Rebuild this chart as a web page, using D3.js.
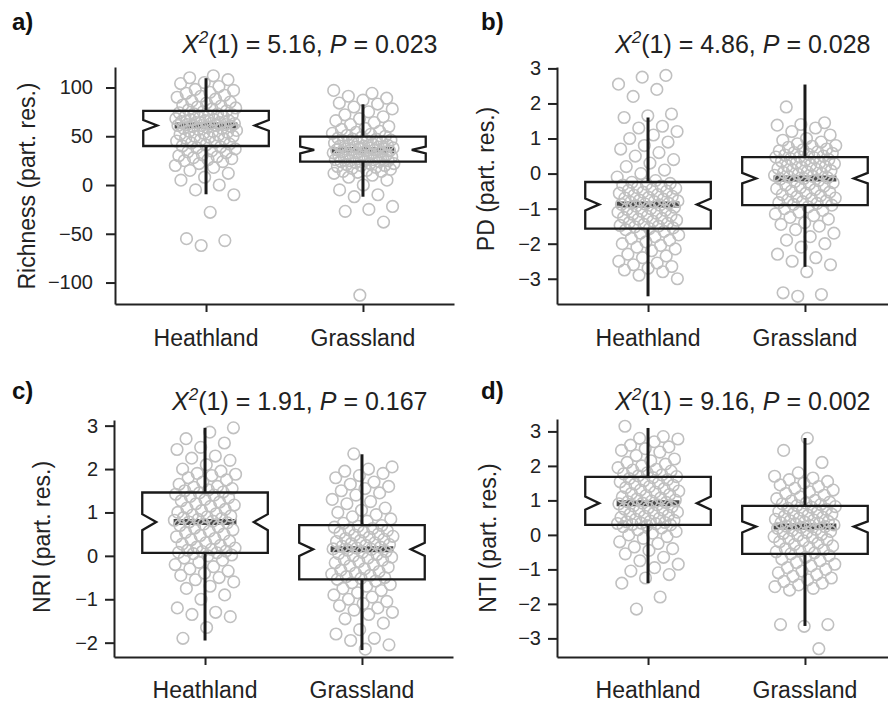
<!DOCTYPE html>
<meta charset="utf-8">
<style>
    body { margin: 0; background: #fff; }
    svg { font-family: "Liberation Sans", Arial, sans-serif; }
    .axis path, .axis line { fill: none; stroke: #222; stroke-width: 2px; }
    .axis text { font-size: 20px; fill: #222; }
    .pt { fill: none; stroke: #c0c0c0; stroke-width: 1.6px; }
</style>
<body>
<script src="https://d3js.org/d3.v7.min.js"></script>
<script>
    const groups = ["Heathland", "Grassland"];
    const letters = ["a)", "b)", "c)", "d)"];
    const yLabels = ["Richness (part. res.)", "PD (part. res.)", "NRI (part. res.)", "NTI (part. res.)"];
    const chiSq = ["5.16", "4.86", "1.91", "9.16"];
    const pVals = ["0.023", "0.028", "0.167", "0.002"];
    const yTicks = [[-100, -50, 0, 50, 100], [-3, -2, -1, 0, 1, 2, 3], [-2, -1, 0, 1, 2, 3], [-3, -2, -1, 0, 1, 2, 3]];
    const yLimits = [[-122, 121], [-3.72, 3.04], [-2.33, 3.13], [-3.54, 3.36]];

    // box stats per panel: [Heathland, Grassland]
    const q1 = [[40, 24], [-1.57, -0.9], [0.07, -0.54], [0.29, -0.55]];
    const medians = [[61, 36], [-0.88, -0.14], [0.78, 0.15], [0.92, 0.24]];
    const q3 = [[76, 49.6], [-0.24, 0.47], [1.46, 0.71], [1.68, 0.84]];
    const notchLo = [[55.7, 32.5], [-1.05, -0.28], [0.59, 0.0], [0.73, 0.07]];
    const notchHi = [[66.7, 39.3], [-0.71, 0.02], [0.96, 0.3], [1.11, 0.39]];
    const whiskLo = [[-9.5, -12], [-3.5, -2.66], [-1.95, -2.17], [-1.4, -2.64]];
    const whiskHi = [[109.5, 82.8], [1.6, 2.54], [2.95, 2.34], [3.1, 2.81]];

    const richnessHeath = [112, 110, 108, 105, 104, 101, 98, 97, 95, 94, 92, 91, 90, 88, 86, 85, 84, 82, 81, 80, 79, 78, 77,
        76, 75, 74, 73, 73, 72, 71, 70, 70, 69, 68, 67, 67, 66, 66, 65, 64, 64, 63, 63, 62, 62, 61, 61, 61,
        60, 60, 59, 58, 58, 57, 56, 55, 55, 54, 53, 52, 51, 50, 50, 49, 48, 47, 46, 45, 44, 43, 42, 41, 40,
        39, 38, 37, 35, 34, 33, 31, 30, 29, 28, 27, 26, 25, 24, 22, 20, 18, 15, 12, 8, 5, 0, -5, -10, -28, -55, -57, -62];
    const richnessGrass = [97, 94, 91, 89, 87, 84, 83, 80, 78, 75, 72, 70, 68, 66, 64, 62, 60, 58, 57, 55, 54, 53, 52, 51, 50,
        49, 48, 47, 47, 46, 45, 45, 44, 43, 43, 42, 41, 41, 40, 40, 39, 39, 38, 38, 37, 37, 37, 36, 36, 36,
        35, 35, 34, 34, 33, 33, 32, 32, 31, 31, 30, 30, 29, 29, 28, 28, 27, 27, 26, 26, 25, 25, 25, 24, 24,
        23, 22, 22, 21, 20, 20, 19, 18, 17, 16, 15, 14, 14, 13, 12, 10, 8, 5, 0, -5, -10, -12, -22, -25, -27, -38, -113];
    const pdHeath = [2.8, 2.75, 2.55, 2.4, 2.2, 1.7, 1.65, 1.6, 1.35, 1.3, 1.2, 1.1, 1.0, 0.9, 0.8, 0.7, 0.6, 0.5, 0.4, 0.3, 0.2, 0.1, 0.0, -0.1, -0.2,
        -0.25, -0.28, -0.3, -0.33, -0.36, -0.4, -0.42, -0.45, -0.48, -0.5, -0.53, -0.56, -0.6, -0.62, -0.65, -0.68, -0.7, -0.73, -0.76, -0.78, -0.8, -0.82, -0.85, -0.87, -0.88,
        -0.9, -0.93, -0.96, -1.0, -1.02, -1.05, -1.08, -1.1, -1.13, -1.16, -1.2, -1.22, -1.25, -1.28, -1.3, -1.33, -1.36, -1.4, -1.42, -1.45, -1.48, -1.5, -1.52, -1.55, -1.57,
        -1.6, -1.65, -1.7, -1.75, -1.8, -1.85, -1.9, -1.95, -2.0, -2.05, -2.1, -2.15, -2.2, -2.3, -2.35, -2.4, -2.5, -2.55, -2.6, -2.65, -2.7, -2.75, -2.8, -2.9, -3.0];
    const pdGrass = [1.9, 1.45, 1.4, 1.38, 1.3, 1.2, 1.1, 1.0, 0.95, 0.9, 0.85, 0.8, 0.78, 0.75, 0.7, 0.68, 0.65, 0.62, 0.6, 0.58, 0.55, 0.53, 0.5, 0.48, 0.47,
        0.45, 0.42, 0.4, 0.38, 0.35, 0.32, 0.3, 0.28, 0.25, 0.22, 0.2, 0.18, 0.15, 0.12, 0.1, 0.08, 0.05, 0.03, 0.0, -0.02, -0.05, -0.08, -0.1, -0.12, -0.14,
        -0.16, -0.2, -0.23, -0.26, -0.3, -0.33, -0.36, -0.4, -0.43, -0.46, -0.5, -0.53, -0.56, -0.6, -0.63, -0.66, -0.7, -0.72, -0.75, -0.78, -0.8, -0.83, -0.85, -0.88, -0.9,
        -0.95, -1.0, -1.05, -1.1, -1.15, -1.2, -1.25, -1.3, -1.4, -1.45, -1.5, -1.6, -1.7, -1.8, -1.9, -2.0, -2.1, -2.3, -2.4, -2.5, -2.6, -2.8, -3.4, -3.45, -3.5];
    const nriHeath = [2.95, 2.85, 2.7, 2.6, 2.5, 2.45, 2.3, 2.25, 2.2, 2.1, 2.0, 1.95, 1.9, 1.88, 1.85, 1.8, 1.75, 1.7, 1.65, 1.6, 1.58, 1.55, 1.52, 1.5, 1.47,
        1.45, 1.42, 1.4, 1.37, 1.34, 1.3, 1.27, 1.24, 1.2, 1.17, 1.14, 1.1, 1.07, 1.04, 1.0, 0.97, 0.94, 0.92, 0.9, 0.88, 0.86, 0.84, 0.82, 0.8, 0.78,
        0.76, 0.73, 0.7, 0.67, 0.64, 0.6, 0.57, 0.54, 0.5, 0.47, 0.44, 0.4, 0.37, 0.34, 0.3, 0.27, 0.24, 0.2, 0.18, 0.15, 0.13, 0.11, 0.1, 0.08, 0.07,
        0.05, 0.02, 0.0, -0.05, -0.1, -0.15, -0.2, -0.25, -0.3, -0.35, -0.4, -0.45, -0.5, -0.55, -0.6, -0.7, -0.75, -0.9, -1.0, -1.2, -1.3, -1.35, -1.4, -1.65, -1.9];
    const nriGrass = [2.35, 2.05, 2.0, 1.95, 1.9, 1.85, 1.8, 1.7, 1.65, 1.6, 1.55, 1.5, 1.45, 1.4, 1.3, 1.25, 1.2, 1.1, 1.05, 1.0, 0.95, 0.9, 0.85, 0.8, 0.75,
        0.7, 0.68, 0.66, 0.63, 0.6, 0.58, 0.55, 0.53, 0.5, 0.48, 0.45, 0.43, 0.4, 0.38, 0.35, 0.33, 0.3, 0.28, 0.26, 0.24, 0.22, 0.2, 0.18, 0.16, 0.15,
        0.13, 0.1, 0.08, 0.05, 0.03, 0.0, -0.03, -0.05, -0.08, -0.1, -0.13, -0.16, -0.2, -0.23, -0.26, -0.3, -0.33, -0.36, -0.4, -0.42, -0.45, -0.48, -0.5, -0.52, -0.54,
        -0.58, -0.62, -0.66, -0.7, -0.75, -0.8, -0.85, -0.9, -0.95, -1.0, -1.05, -1.1, -1.15, -1.2, -1.25, -1.3, -1.35, -1.45, -1.55, -1.7, -1.8, -1.9, -1.95, -2.05, -2.15];
    const ntiHeath = [3.15, 2.85, 2.8, 2.78, 2.7, 2.6, 2.55, 2.5, 2.45, 2.4, 2.3, 2.2, 2.15, 2.1, 2.05, 2.0, 1.95, 1.9, 1.88, 1.85, 1.8, 1.77, 1.74, 1.71, 1.69,
        1.66, 1.63, 1.6, 1.57, 1.54, 1.5, 1.47, 1.44, 1.4, 1.37, 1.34, 1.3, 1.27, 1.24, 1.2, 1.17, 1.14, 1.1, 1.07, 1.04, 1.01, 0.98, 0.96, 0.94, 0.92,
        0.9, 0.87, 0.84, 0.81, 0.78, 0.75, 0.72, 0.69, 0.66, 0.63, 0.6, 0.57, 0.54, 0.51, 0.48, 0.45, 0.42, 0.4, 0.38, 0.36, 0.34, 0.33, 0.32, 0.3, 0.29,
        0.27, 0.24, 0.2, 0.15, 0.1, 0.05, 0.0, -0.05, -0.1, -0.2, -0.25, -0.35, -0.4, -0.45, -0.55, -0.65, -0.75, -0.85, -0.95, -1.05, -1.15, -1.25, -1.4, -1.8, -2.15];
    const ntiGrass = [2.8, 2.45, 2.1, 1.8, 1.7, 1.65, 1.6, 1.55, 1.5, 1.45, 1.4, 1.35, 1.3, 1.25, 1.2, 1.15, 1.1, 1.05, 1.0, 0.98, 0.95, 0.92, 0.9, 0.88, 0.85,
        0.82, 0.8, 0.77, 0.74, 0.71, 0.68, 0.65, 0.62, 0.6, 0.57, 0.54, 0.51, 0.48, 0.45, 0.43, 0.41, 0.39, 0.37, 0.35, 0.33, 0.31, 0.29, 0.27, 0.25, 0.24,
        0.22, 0.19, 0.16, 0.13, 0.1, 0.07, 0.04, 0.01, -0.02, -0.05, -0.08, -0.11, -0.14, -0.17, -0.2, -0.24, -0.28, -0.32, -0.36, -0.4, -0.43, -0.46, -0.49, -0.52, -0.55,
        -0.6, -0.65, -0.7, -0.75, -0.8, -0.85, -0.9, -0.95, -1.0, -1.05, -1.1, -1.15, -1.2, -1.25, -1.3, -1.35, -1.4, -1.45, -1.5, -1.55, -1.6, -2.6, -2.65, -2.6, -3.3];

    const points = [[richnessHeath, richnessGrass], [pdHeath, pdGrass], [nriHeath, nriGrass], [ntiHeath, ntiGrass]];

    // panel layout (pixels)
    const layout = [
        {left: 115, top: 67, bottom: 304, pad: 13, letterX: 12, letterY: 30, titleX: 182, titleY: 53, labX: 35, labY: 186, xlabY: 346},
        {left: 557, top: 67, bottom: 304, pad: 7, letterX: 481, letterY: 30, titleX: 615, titleY: 53, labX: 494, labY: 179, xlabY: 346},
        {left: 114, top: 420, bottom: 657, pad: 7, letterX: 12, letterY: 399, titleX: 172, titleY: 410, labX: 50, labY: 537, xlabY: 698},
        {left: 557, top: 419, bottom: 657, pad: 7, letterX: 481, letterY: 399, titleX: 615, titleY: 410, labX: 496, labY: 538, xlabY: 698}
    ];

    const svg = d3.select("body").append("svg")
        .attr("width", 888)
        .attr("height", 703);

    const fmt = d => (d < 0 ? "\u2212" + Math.abs(d) : "" + d);

    layout.forEach((L, p) => {
        const g = svg.append("g");
        const x = d3.scaleLinear().domain([0.42, 2.58]).range([L.left, L.left + 339]);
        const y = d3.scaleLinear().domain(yLimits[p]).range([L.bottom, L.top]);
        const halfW = x(1.4) - x(1);
        const notchIn = 14;

        // medians (under the points)
        groups.forEach((grp, i) => {
            const cx = x(i + 1);
            g.append("line")
                .attr("x1", cx - halfW / 2).attr("x2", cx + halfW / 2)
                .attr("y1", y(medians[p][i])).attr("y2", y(medians[p][i]))
                .attr("stroke", "#4a4a4a").attr("stroke-width", 6);
        });

        // jittered points
        groups.forEach((grp, i) => {
            const cx = x(i + 1);
            g.selectAll(null)
                .data(points[p][i])
                .enter().append("circle")
                .attr("class", "pt")
                .attr("r", 5.8)
                .attr("cx", (d, k) => cx + ((((k + 1) * 0.6180339887 + p * 0.17 + i * 0.41) % 1) - 0.5) * 62)
                .attr("cy", d => y(d));
        });

        // whiskers and notched boxes
        groups.forEach((grp, i) => {
            const cx = x(i + 1);
            g.append("line")
                .attr("x1", cx).attr("x2", cx)
                .attr("y1", y(whiskHi[p][i])).attr("y2", y(q3[p][i]))
                .attr("stroke", "#1a1a1a").attr("stroke-width", 3);
            g.append("line")
                .attr("x1", cx).attr("x2", cx)
                .attr("y1", y(q1[p][i])).attr("y2", y(whiskLo[p][i]))
                .attr("stroke", "#1a1a1a").attr("stroke-width", 3);

            const l = cx - halfW, r = cx + halfW;
            const pts = [
                [l, y(q3[p][i])], [r, y(q3[p][i])], [r, y(notchHi[p][i])], [r - notchIn, y(medians[p][i])],
                [r, y(notchLo[p][i])], [r, y(q1[p][i])], [l, y(q1[p][i])], [l, y(notchLo[p][i])],
                [l + notchIn, y(medians[p][i])], [l, y(notchHi[p][i])]
            ];
            g.append("path")
                .attr("d", d3.line()(pts) + "Z")
                .attr("fill", "none")
                .attr("stroke", "#1a1a1a")
                .attr("stroke-width", 2.3)
                .attr("stroke-linejoin", "miter");
        });

        // axes
        g.append("g")
            .attr("class", "axis")
            .attr("transform", "translate(" + L.left + ",0)")
            .call(d3.axisLeft(y).tickValues(yTicks[p]).tickFormat(fmt).tickSize(9).tickPadding(L.pad).tickSizeOuter(0));
        g.append("g")
            .attr("class", "axis")
            .attr("transform", "translate(0," + L.bottom + ")")
            .call(d3.axisBottom(x).tickValues([1, 2]).tickFormat(() => "").tickSize(8).tickSizeOuter(0));

        groups.forEach((grp, i) => {
            g.append("text")
                .attr("x", x(i + 1)).attr("y", L.xlabY)
                .attr("text-anchor", "middle")
                .style("font-size", "23px").style("fill", "#222")
                .text(grp);
        });

        // y label
        g.append("text")
            .attr("transform", "translate(" + L.labX + "," + L.labY + ") rotate(-90)")
            .attr("text-anchor", "middle")
            .style("font-size", "23px").style("fill", "#222")
            .text(yLabels[p]);

        // panel letter
        g.append("text")
            .attr("x", L.letterX).attr("y", L.letterY)
            .style("font-size", "24px").style("font-weight", "bold").style("fill", "#111")
            .text(letters[p]);

        // test statistic title
        const t = g.append("text")
            .attr("x", L.titleX).attr("y", L.titleY)
            .style("font-size", "25px").style("fill", "#222");
        t.append("tspan").style("font-style", "italic").text("X");
        t.append("tspan").style("font-style", "italic").style("font-size", "17px").attr("dy", -10).text("2");
        t.append("tspan").attr("dy", 10).text("(1) = " + chiSq[p] + ", ");
        t.append("tspan").style("font-style", "italic").text("P");
        t.append("tspan").text(" = " + pVals[p]);
    });
</script>
</body>
</html>
